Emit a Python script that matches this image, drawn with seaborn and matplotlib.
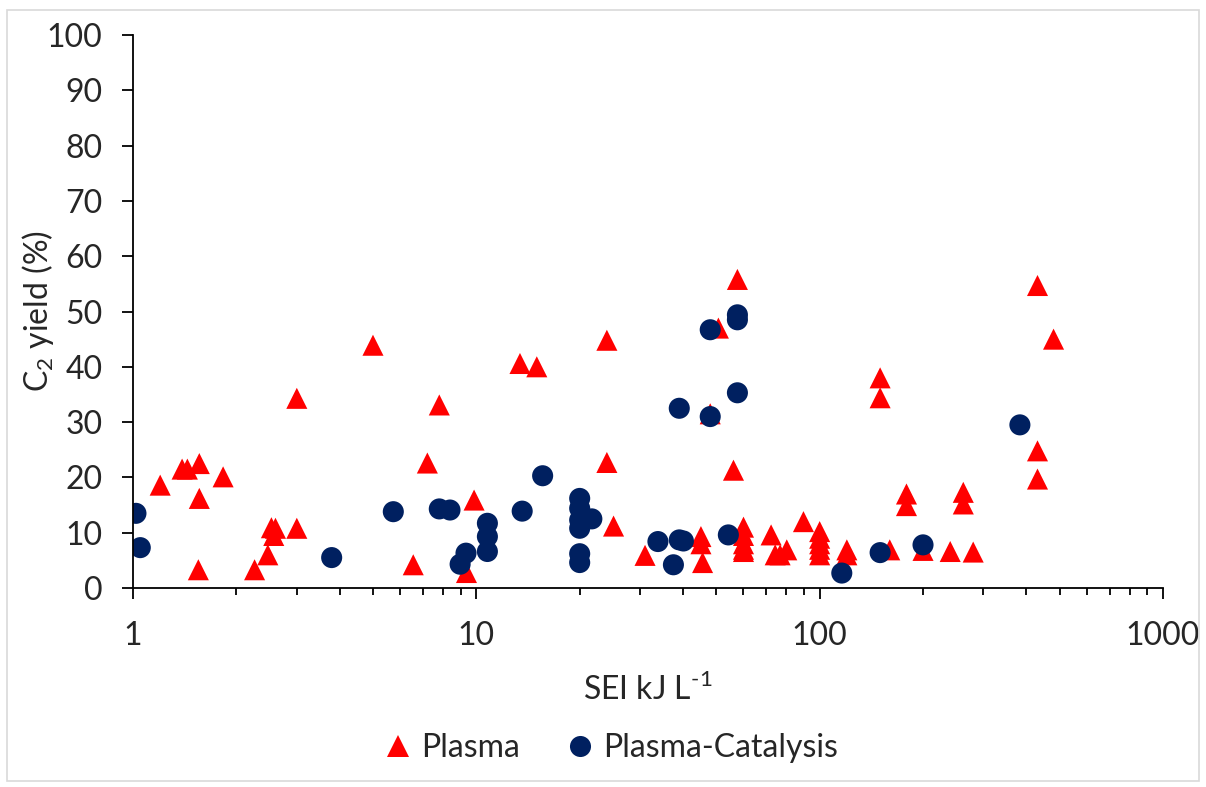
import pandas as pd
import seaborn as sns
import matplotlib.pyplot as plt
from matplotlib.patches import Rectangle

# Plasma only
plasma_sei = [1.2, 1.39, 1.44, 1.56, 1.56, 1.55, 1.83, 2.26, 2.47, 2.53, 2.6, 2.57,
              3.0, 3.0, 5.0, 6.55, 7.2, 7.8, 9.36, 9.85, 13.4, 15.0, 24.0, 24.0,
              25.1, 31.0, 45.1, 45.1, 45.6, 48.0, 50.7, 56.1, 57.6, 60, 60, 60,
              60, 60, 72.2, 74.2, 76.7, 80.2, 89.7, 100, 100, 100, 100, 100,
              120, 120, 150, 150, 160, 179, 179, 200, 240, 262, 262, 280,
              431, 431, 431, 480]
plasma_yield = [18.6, 21.5, 21.5, 22.5, 16.2, 3.3, 20.1, 3.3, 6.0, 10.9, 10.8, 9.5,
                10.8, 34.3, 43.9, 4.2, 22.6, 33.1, 2.8, 15.9, 40.6, 40.0, 44.8, 22.7,
                11.2, 5.9, 9.3, 8.0, 4.6, 31.5, 47.0, 21.3, 55.8, 11.0, 9.5, 8.0,
                7.0, 6.6, 9.6, 6.0, 6.0, 6.9, 12.0, 10.2, 9.0, 8.0, 7.0, 6.0,
                6.9, 6.0, 38.0, 34.4, 6.9, 17.0, 14.9, 6.8, 6.6, 17.3, 15.2, 6.5,
                54.7, 24.8, 19.7, 45.0]

# Plasma-catalysis
cat_sei = [1.02, 1.05, 3.79, 5.73, 7.8, 8.38, 8.97, 9.33, 10.77, 10.77, 10.77,
           13.6, 15.6, 20, 20, 20, 20, 20, 20, 21.7, 33.8, 37.5, 39.0, 39.0,
           40.1, 48.0, 48.0, 54.2, 57.6, 57.6, 57.6, 116, 150, 200, 383]
cat_yield = [13.5, 7.3, 5.5, 13.8, 14.3, 14.1, 4.3, 6.3, 11.7, 9.3, 6.6,
             13.9, 20.3, 16.2, 14.4, 12.3, 10.8, 6.2, 4.6, 12.5, 8.4, 4.2, 32.5, 8.7,
             8.5, 46.7, 31.0, 9.6, 49.4, 48.5, 35.3, 2.7, 6.4, 7.8, 29.5]

x_ticks = [1, 10, 100, 1000]
y_ticks = list(range(0, 101, 10))

df = pd.DataFrame({
    'SEI': plasma_sei + cat_sei,
    'Yield': plasma_yield + cat_yield,
    'Type': ['Plasma'] * len(plasma_sei) + ['Plasma-Catalysis'] * len(cat_sei),
})

sns.set_style('white')
plt.rcParams['font.family'] = ['Lato', 'DejaVu Sans']
plt.rcParams['mathtext.fontset'] = 'custom'
plt.rcParams['mathtext.rm'] = 'Lato'
fs = 23

fig = plt.figure(figsize=(12.06, 7.87), dpi=100)
ax = fig.add_axes([133 / 1206, 1 - 588 / 787, (1163 - 133) / 1206, (588 - 35) / 787])

sns.scatterplot(data=df, x='SEI', y='Yield', hue='Type', style='Type',
                palette={'Plasma': '#FF0000', 'Plasma-Catalysis': '#002060'},
                markers={'Plasma': '^', 'Plasma-Catalysis': 'o'},
                s=230, linewidth=0, ax=ax)

ax.set_xscale('log')
ax.set_xlim(1, 1000)
ax.set_ylim(0, 100)
ax.set_xticks(x_ticks)
ax.set_xticklabels([str(t) for t in x_ticks])
ax.set_yticks(y_ticks)

for side in ['top', 'right']:
    ax.spines[side].set_visible(False)
for side in ['left', 'bottom']:
    ax.spines[side].set_color('black')
    ax.spines[side].set_linewidth(1.3)

ax.tick_params(axis='both', which='major', direction='out', length=8, width=1.3,
               color='black', labelsize=fs, bottom=True, left=True)
ax.tick_params(axis='x', which='major', pad=16)
ax.tick_params(axis='y', which='major', pad=14)
ax.tick_params(axis='x', which='minor', direction='out', length=5, width=1.3,
               color='black', bottom=True)

ax.set_xlabel(r'SEI kJ L$^{\text{-1}}$', fontsize=fs)
ax.set_ylabel(r'C$_{\mathregular{2}}$ yield (%)', fontsize=fs)
ax.xaxis.label.set_va('center')
ax.yaxis.label.set_va('center')
ax.xaxis.set_label_coords(0.5, -0.184)
ax.yaxis.set_label_coords(-0.0922, 0.5)

handles, labels = ax.get_legend_handles_labels()
ax.legend(handles, labels, loc='center', bbox_to_anchor=(0.4646, -0.289),
          ncol=2, frameon=False, fontsize=fs, markerscale=1.0,
          handlelength=0.8, handletextpad=0.3, columnspacing=1.5)

fig.patches.append(Rectangle((7 / 1206, 1 - 781 / 787), (1199 - 7) / 1206, (781 - 10) / 787,
                             transform=fig.transFigure, fill=False,
                             edgecolor='#D9D9D9', linewidth=1.2))

plt.savefig('out.png', dpi=100)
